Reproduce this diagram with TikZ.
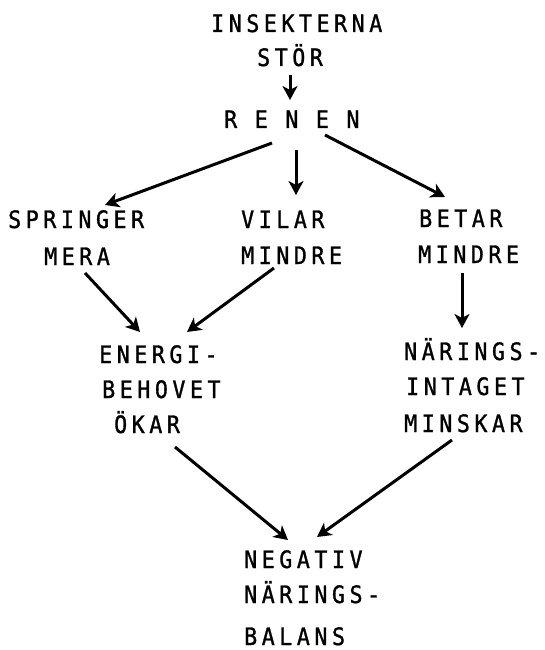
\documentclass[tikz,border=0pt]{standalone}
\usepackage{fontspec}
\usetikzlibrary{arrows.meta}
\newfontfamily\twfont[LetterSpace=19,FakeBold=1.2,FakeStretch=0.9]{DejaVu Sans Mono}
\begin{document}
\begin{tikzpicture}[x=1pt,y=-1pt,
  lbl/.style={anchor=base west,inner sep=0pt,font=\twfont\fontsize{24}{28}\selectfont},
  arr/.style={line width=3pt,-{Stealth[length=14pt,width=15pt,inset=4pt]}}]
\useasboundingbox[fill=white] (0,0) rectangle (544,650);
\node[lbl] (ins) at (211,32) {INSEKTERNA};
\node[lbl] (stor) at (257,66) {STÖR};
\node[lbl] (renen) at (224,128) {R E N E N};
\node[lbl] (spr1) at (8,228) {SPRINGER};
\node[lbl] (spr2) at (44,265) {MERA};
\node[lbl] (vil1) at (241,228) {VILAR};
\node[lbl] (vil2) at (241,264) {MINDRE};
\node[lbl] (bet1) at (419,227) {BETAR};
\node[lbl] (bet2) at (418,263) {MINDRE};
\node[lbl] (en1) at (99,363) {ENERGI-};
\node[lbl] (en2) at (102,398) {BEHOVET};
\node[lbl] (en3) at (114,433) {ÖKAR};
\node[lbl] (na1) at (404,360) {NÄRINGS-};
\node[lbl] (na2) at (406,395) {INTAGET};
\node[lbl] (na3) at (404,432) {MINSKAR};
\node[lbl] (ne1) at (244,568) {NEGATIV};
\node[lbl] (ne2) at (244,603) {NÄRINGS-};
\node[lbl] (ne3) at (244,645) {BALANS};
\draw[arr] ([shift={(33,9)}]stor.base west) -- ([shift={(66,-28)}]renen.base west);
\draw[arr] ([shift={(48,15)}]renen.base west) -- ([shift={(97,-23)}]spr1.base west);
\draw[arr] ([shift={(72,22)}]renen.base west) -- ([shift={(55,-33)}]vil1.base west);
\draw[arr] ([shift={(101,7)}]renen.base west) -- ([shift={(26,-30)}]bet1.base west);
\draw[arr] ([shift={(41,8)}]spr2.base west) -- ([shift={(41,-31)}]en1.base west);
\draw[arr] ([shift={(33,4)}]vil2.base west) -- ([shift={(88,-31)}]en1.base west);
\draw[arr] ([shift={(44,10)}]bet2.base west) -- ([shift={(58,-32)}]na1.base west);
\draw[arr] ([shift={(61,14)}]en3.base west) -- ([shift={(44,-28)}]ne1.base west);
\draw[arr] ([shift={(48,8)}]na3.base west) -- ([shift={(73,-31)}]ne1.base west);
\end{tikzpicture}
\end{document}
